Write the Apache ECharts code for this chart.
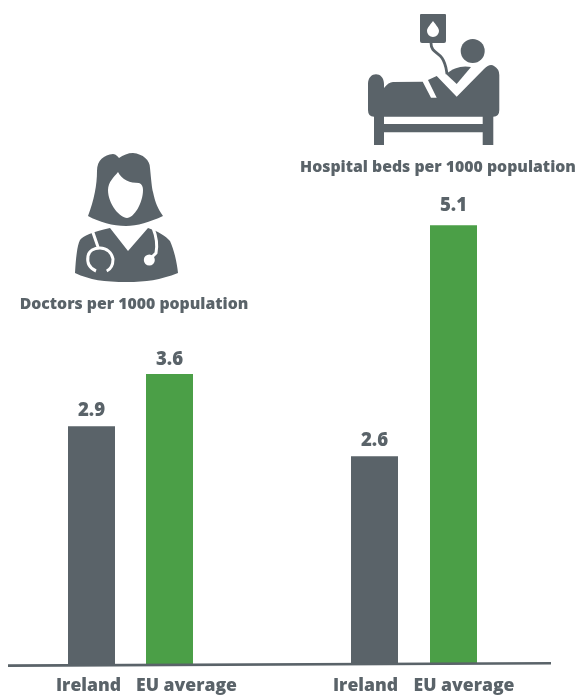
<!DOCTYPE html>
<html><head><meta charset="utf-8">
<style>html,body{margin:0;padding:0;background:#fff}#c{width:576px;height:695px}</style>
<script src="https://cdn.jsdelivr.net/npm/echarts@6/dist/echarts.min.js"></script>
</head><body><div id="c"></div>
<script>
const categories = ['Ireland', 'EU average'];
const doctorLabels = ['2.9', '3.6'];
const bedLabels = ['2.6', '5.1'];
// Bar lengths as drawn in the picture (the source's bars are not strictly proportional to their printed labels)
const doctorBars = [2.77, 3.38];
const bedBars = [2.41, 5.10];
const doctorTitle = 'Doctors per 1000 population';
const bedTitle = 'Hospital beds per 1000 population';
const slate = '#5a6369', green = '#4b9f47';
const font = '"Open Sans", "Noto Sans", sans-serif';

function xAxis(idx, shifts) {
  const rich = k => ({fontFamily: font, fontWeight: 800, fontSize: 17.6, color: slate, padding: shifts[k]});
  return {
    type: 'category', gridIndex: idx, data: categories,
    axisLine: {show: false}, axisTick: {show: false},
    axisLabel: {
      interval: 0, margin: idx === 0 ? 13 : 14, hideOverlap: false,
      formatter: (v, i) => '{' + (i === 0 ? 'a' : 'b') + '|' + v + '}',
      rich: {a: rich(0), b: rich(1)}
    }
  };
}
const yAxis = i => ({type: 'value', gridIndex: i, min: 0, max: 6, show: false});
function series(i, bars, labels, gaps) {
  return {
    type: 'bar', xAxisIndex: i, yAxisIndex: i, barWidth: 47,
    data: bars.map((v, k) => ({
      value: v,
      itemStyle: {color: k === 0 ? slate : green},
      label: {distance: gaps[k]}
    })),
    label: {show: true, position: 'top', fontFamily: font, fontWeight: 800, fontSize: 18.6, color: slate,
      formatter: p => labels[p.dataIndex]}
  };
}
let iconCount = 0;
function icon(d, style) {
  const name = 'icon' + (iconCount++);
  echarts.graphic.registerShape(name, echarts.graphic.extendPath(d));
  return {type: name, style: style};
}
const dark = {fill: slate};
const white = {fill: '#fff'};
const graphic = [
  // Baseline
  {type: 'line', shape: {x1: 8, y1: 665.6, x2: 551, y2: 663.2}, style: {stroke: slate, lineWidth: 2.6}, z: 10},
  // Panel titles
  {type: 'text', style: {x: 134, y: 304, text: doctorTitle, align: 'center', verticalAlign: 'middle', font: '800 15.8px ' + font, fill: slate}},
  {type: 'text', style: {x: 438, y: 167, text: bedTitle, align: 'center', verticalAlign: 'middle', font: '800 15.8px ' + font, fill: slate}},

  // Hospital bed pictogram
  icon('M420 15 Q420 14 421 14 L445 14 Q446 14 446 15 L446 41 Q446 43 444 43 L422 43 Q420 43 420 41 Z', dark),
  icon('M433 21 C436 25 439 28 439 31 A6 6 0 0 1 427 31 C427 28 430 25 433 21 Z', white),
  icon('M431 43 C431 52 438 52 442 58 C446 64 446 68 447 74', {stroke: slate, lineWidth: 2.8, fill: 'none'}),
  {type: 'circle', shape: {cx: 472.7, cy: 51, r: 12}, style: dark},
  icon('M446 74 C453 68 462 65 471 67 L456.7 84 Z', dark),
  icon('M368 84 C368 71 384 71 384 84 L384 88 C387 84 390 82 393 82 L422.7 81.7 L431 97.7 L436.7 97.7 L428 80 L436.7 76 L456.7 96.7 L484 69 Q490 63 494 66 Q499.3 69 499.3 75 L499.3 110 Q499.3 116.7 493.3 116.7 L493.3 145 L482.7 145 L482.7 132.3 L384 132.3 L384 145 L374 145 L374 116.7 Q368 116.7 368 110 Z M384 116.7 L384 124 L482.7 124 L482.7 116.7 Z', dark),

  // Doctor pictogram
  icon('M88 216 C94 200 97 185 97 171 C97 160 104 155 113 154 C116 154 118 157 119 158 C123 155 128 153 133 153 C143 154 150 160 150 168 C151 178 152 190 153 192 C155 202 158 209 163 216 C150 222 137 226 126 226 C113 226 99 222 88 216 Z', dark),
  icon('M118 172 C114 177 108 182 108 190 C108 204 120 218 127 218 C134 218 143 203 143 190 C143 187 142 184 139 183 C130 183 122 180 118 172 Z', white),
  icon('M75 273 C76 258 77 246 80 240 C83 236 92 232 110 228 L128 251 L148 228 C157 231 166 236 170 241 C174 250 177 262 178 273 C160 280 146 282 127 282 C104 282 90 280 75 273 Z', dark),
  icon('M92.7 231.7 L98 247 M96 271 C89 268 87 262 88 256 C89 251 94 248 100 248 C107 248 112 253 113 259 C113 264 111 269 106.7 271 M153 228 C157 238 157 248 156 253 L149 260', {stroke: '#fff', lineWidth: 3, fill: 'none'}),
  {type: 'circle', shape: {cx: 149.3, cy: 260, r: 5.5}, style: white}
];
const option = {
  animation: false,
  backgroundColor: '#fff',
  grid: [
    {left: 52.5, width: 156, top: 149, height: 516},
    {left: 335, width: 158, top: 148, height: 516}
  ],
  xAxis: [xAxis(0, [[0, 6, 0, 0], [0, 0, 0, 34]]), xAxis(1, [[0, 18, 0, 0], [0, 0, 0, 21]])],
  yAxis: [yAxis(0), yAxis(1)],
  series: [series(0, doctorBars, doctorLabels, [6, 5]), series(1, bedBars, bedLabels, [6, 10])],
  graphic: graphic
};
echarts.init(document.getElementById('c')).setOption(option);
</script></body></html>
